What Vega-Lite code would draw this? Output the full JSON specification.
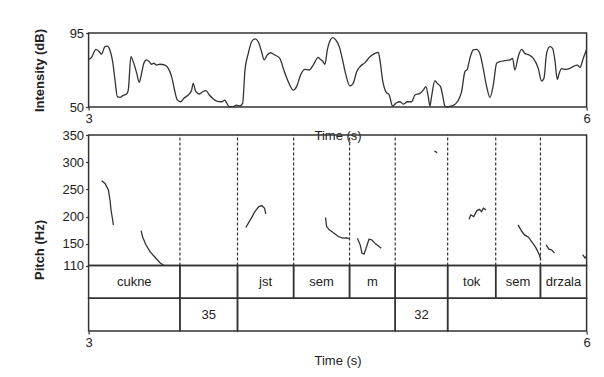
{
  "$schema": "https://vega.github.io/schema/vega-lite/v6.json",
  "width": 498,
  "height": 298,
  "autosize": {"type": "none"},
  "padding": {"left": 88.6, "top": 33, "right": 17.4, "bottom": 46},
  "background": "white",
  "config": {
    "view": {"stroke": null},
    "font": "Liberation Sans",
    "axis": {"grid": false, "domain": false, "tickColor": "#333", "tickWidth": 1.2, "labelColor": "#222", "titleColor": "#222", "labelFont": "Liberation Sans", "titleFont": "Liberation Sans", "labelFontSize": 13, "titleFontSize": 13}
  },
  "datasets": {
    "intensity": [
      {"t":3.000,"db":79},{"t":3.018,"db":80.2},{"t":3.044,"db":85},{"t":3.064,"db":83.6},{"t":3.078,"db":82.2},{"t":3.098,"db":86.7},{"t":3.112,"db":87},{"t":3.128,"db":84.7},{"t":3.145,"db":77.6},{"t":3.159,"db":66.4},{"t":3.173,"db":56.3},{"t":3.189,"db":55.9},{"t":3.209,"db":57.1},{"t":3.229,"db":57.9},{"t":3.239,"db":60.3},{"t":3.255,"db":80.6},{"t":3.269,"db":77.6},{"t":3.289,"db":70.9},{"t":3.305,"db":65},{"t":3.319,"db":70.5},{"t":3.333,"db":76.6},{"t":3.349,"db":78.6},{"t":3.365,"db":77.6},{"t":3.379,"db":76},{"t":3.393,"db":76.6},{"t":3.410,"db":75.5},{"t":3.430,"db":76},{"t":3.460,"db":75.5},{"t":3.480,"db":73.5},{"t":3.500,"db":68.5},{"t":3.520,"db":59.3},{"t":3.534,"db":54.3},{"t":3.554,"db":53.2},{"t":3.574,"db":55.3},{"t":3.600,"db":57.3},{"t":3.620,"db":60},{"t":3.630,"db":64.4},{"t":3.646,"db":59.3},{"t":3.667,"db":57.9},{"t":3.687,"db":59.3},{"t":3.707,"db":60},{"t":3.727,"db":57.3},{"t":3.747,"db":55.3},{"t":3.771,"db":53.6},{"t":3.801,"db":53.2},{"t":3.821,"db":54.2},{"t":3.831,"db":52.6},{"t":3.847,"db":50.2},{"t":3.871,"db":50.2},{"t":3.891,"db":51.2},{"t":3.911,"db":50.6},{"t":3.928,"db":52.2},{"t":3.942,"db":72.5},{"t":3.962,"db":82.6},{"t":3.982,"db":89.7},{"t":4.002,"db":91.4},{"t":4.022,"db":89.7},{"t":4.042,"db":83.6},{"t":4.058,"db":78.6},{"t":4.076,"db":81.6},{"t":4.096,"db":83},{"t":4.122,"db":81.6},{"t":4.152,"db":79.6},{"t":4.176,"db":72.5},{"t":4.203,"db":65.4},{"t":4.233,"db":60.3},{"t":4.253,"db":62.4},{"t":4.277,"db":69.5},{"t":4.303,"db":72.9},{"t":4.329,"db":72.5},{"t":4.353,"db":75.5},{"t":4.383,"db":80.2},
      {"t":4.394,"db":79.2},{"t":4.410,"db":77.8},{"t":4.424,"db":76},{"t":4.438,"db":84.7},{"t":4.454,"db":90.3},{"t":4.470,"db":92.2},{"t":4.490,"db":90.7},{"t":4.510,"db":86.7},{"t":4.530,"db":78.6},{"t":4.550,"db":69.5},{"t":4.574,"db":62.8},{"t":4.594,"db":64.4},{"t":4.615,"db":71.5},{"t":4.639,"db":74.9},{"t":4.665,"db":77},{"t":4.695,"db":80.6},{"t":4.725,"db":82.6},{"t":4.745,"db":83.2},{"t":4.755,"db":78.6},{"t":4.771,"db":66.4},{"t":4.791,"db":59.3},{"t":4.811,"db":57.3},{"t":4.831,"db":50.6},{"t":4.855,"db":52.6},{"t":4.875,"db":53.2},{"t":4.896,"db":51.8},{"t":4.920,"db":53.2},{"t":4.946,"db":53.2},{"t":4.966,"db":57.3},{"t":4.996,"db":58.3},{"t":5.016,"db":60.3},{"t":5.032,"db":62.4},{"t":5.046,"db":56.3},{"t":5.056,"db":50.6},{"t":5.066,"db":56.3},{"t":5.086,"db":66},{"t":5.100,"db":64.4},{"t":5.120,"db":62.4},{"t":5.136,"db":55.3},{"t":5.146,"db":50.6},{"t":5.160,"db":50},{"t":5.181,"db":50.6},{"t":5.201,"db":51.2},{"t":5.221,"db":53.2},{"t":5.247,"db":59.3},{"t":5.267,"db":71.5},{"t":5.281,"db":72.9},{"t":5.297,"db":79.6},{"t":5.317,"db":84.7},{"t":5.337,"db":85.1},{"t":5.357,"db":82.6},{"t":5.377,"db":73.5},{"t":5.398,"db":62.4},{"t":5.418,"db":55.9},{"t":5.438,"db":63.4},{"t":5.458,"db":76.6},{"t":5.478,"db":77.6},{"t":5.508,"db":78.2},{"t":5.538,"db":78.6},{"t":5.554,"db":79.6},{"t":5.568,"db":72.5},{"t":5.588,"db":80.6},{"t":5.608,"db":85.1},{"t":5.628,"db":82.6},{"t":5.654,"db":81.6},{"t":5.679,"db":79.6},{"t":5.709,"db":73.5},{"t":5.729,"db":65.8},{"t":5.743,"db":67.4},{"t":5.759,"db":82.6},{"t":5.779,"db":86.7},{"t":5.795,"db":85.7},{"t":5.809,"db":78.6},{"t":5.823,"db":66.8},{"t":5.835,"db":70.5},{"t":5.849,"db":73.3},{"t":5.875,"db":72.9},{"t":5.899,"db":73.5},{"t":5.923,"db":74.9},{"t":5.944,"db":75.5},{"t":5.960,"db":74.1},{"t":5.980,"db":79.6},{"t":6.000,"db":85.1}
    ],
    "pitch": [
      {"seg":1,"t":3.079,"hz":266},{"seg":1,"t":3.099,"hz":261},{"seg":1,"t":3.119,"hz":249},{"seg":1,"t":3.129,"hz":230.5},{"seg":1,"t":3.135,"hz":212},{"seg":1,"t":3.145,"hz":193.7},{"seg":1,"t":3.149,"hz":184.5},
      {"seg":2,"t":3.316,"hz":174},{"seg":2,"t":3.326,"hz":162},{"seg":2,"t":3.346,"hz":147.7},{"seg":2,"t":3.370,"hz":135.4},{"seg":2,"t":3.400,"hz":125.1},{"seg":2,"t":3.430,"hz":115.2},{"seg":2,"t":3.454,"hz":110},
      {"seg":3,"t":3.947,"hz":179.8},{"seg":3,"t":3.974,"hz":193.9},{"seg":3,"t":4.002,"hz":209.2},{"seg":3,"t":4.025,"hz":218.4},{"seg":3,"t":4.044,"hz":220.2},{"seg":3,"t":4.060,"hz":215.3},{"seg":3,"t":4.067,"hz":204.9},
      {"seg":4,"t":4.427,"hz":198.2},{"seg":4,"t":4.434,"hz":181.6},{"seg":4,"t":4.450,"hz":175.5},{"seg":4,"t":4.473,"hz":170.6},{"seg":4,"t":4.504,"hz":163.3},{"seg":4,"t":4.531,"hz":160.2},{"seg":4,"t":4.555,"hz":160.8},{"seg":4,"t":4.573,"hz":159.6},
      {"seg":5,"t":4.619,"hz":160.2},{"seg":5,"t":4.636,"hz":148},{"seg":5,"t":4.647,"hz":132.7},{"seg":5,"t":4.659,"hz":130.8},{"seg":5,"t":4.675,"hz":144.9},{"seg":5,"t":4.689,"hz":158.4},{"seg":5,"t":4.705,"hz":157.2},{"seg":5,"t":4.729,"hz":149.8},{"seg":5,"t":4.763,"hz":141.9},
      {"seg":6,"t":5.083,"hz":320.6},{"seg":6,"t":5.100,"hz":317.6},
      {"seg":7,"t":5.292,"hz":195.1},{"seg":7,"t":5.302,"hz":203.1},{"seg":7,"t":5.320,"hz":200},{"seg":7,"t":5.339,"hz":211},{"seg":7,"t":5.355,"hz":213.5},{"seg":7,"t":5.367,"hz":209.2},{"seg":7,"t":5.378,"hz":215.3},{"seg":7,"t":5.394,"hz":212.3},
      {"seg":8,"t":5.587,"hz":184.7},{"seg":8,"t":5.610,"hz":172.5},{"seg":8,"t":5.626,"hz":166.3},{"seg":8,"t":5.650,"hz":162.1},{"seg":8,"t":5.673,"hz":152.3},{"seg":8,"t":5.696,"hz":141.9},{"seg":8,"t":5.715,"hz":129.6},{"seg":8,"t":5.725,"hz":120.4},
      {"seg":9,"t":5.756,"hz":148},{"seg":9,"t":5.773,"hz":140},{"seg":9,"t":5.789,"hz":138.8},{"seg":9,"t":5.807,"hz":132.7},
      {"seg":10,"t":5.976,"hz":130},{"seg":10,"t":5.990,"hz":124},{"seg":10,"t":6.0,"hz":127}
    ],
    "bounds": [{"t":3.550},{"t":3.897},{"t":4.235},{"t":4.572},{"t":4.847},{"t":5.163},{"t":5.4525},{"t":5.722}],
    "tiers": [
      {"tier":"1","start":3.0,"end":3.550,"label":"cukne"},
      {"tier":"1","start":3.550,"end":3.897,"label":""},
      {"tier":"1","start":3.897,"end":4.235,"label":"jst"},
      {"tier":"1","start":4.235,"end":4.572,"label":"sem"},
      {"tier":"1","start":4.572,"end":4.847,"label":"m"},
      {"tier":"1","start":4.847,"end":5.163,"label":""},
      {"tier":"1","start":5.163,"end":5.4525,"label":"tok"},
      {"tier":"1","start":5.4525,"end":5.722,"label":"sem"},
      {"tier":"1","start":5.722,"end":6.0,"label":"drzala"},
      {"tier":"2","start":3.0,"end":3.550,"label":""},
      {"tier":"2","start":3.550,"end":3.897,"label":"35"},
      {"tier":"2","start":3.897,"end":4.847,"label":""},
      {"tier":"2","start":4.847,"end":5.163,"label":"32"},
      {"tier":"2","start":5.163,"end":6.0,"label":""}
    ]
  },
  "resolve": {"scale": {"y": "independent"}, "axis": {"x": "independent", "y": "independent"}},
  "layer": [
    {
      "data": {"name": "intensity"},
      "layer": [
        {
          "mark": {"type": "line", "color": "#333", "strokeWidth": 1.3, "clip": true, "interpolate": "monotone"},
          "encoding": {
            "x": {"field": "t", "type": "quantitative", "scale": {"domain": [3, 6], "nice": false, "zero": false},
              "axis": {"orient": "bottom", "offset": -224, "values": [3, 6], "format": "d", "labelFlush": false, "tickSize": 3, "labelPadding": 2, "title": "Time (s)", "titleY": 28.5, "titleBaseline": "middle", "titleFontWeight": "normal"}},
            "y": {"field": "db", "type": "quantitative", "scale": {"domain": [50, 95], "range": [74, 0], "nice": false, "zero": false},
              "axis": {"orient": "left", "values": [50, 95], "tickSize": 3, "labelPadding": 2, "title": "Intensity (dB)", "titleFontWeight": "bold", "titleAngle": 270, "titleAlign": "center", "titleBaseline": "middle", "titleX": -49.6, "titleY": 37}}
          }
        },
        {
          "data": {"values": [{}]},
          "mark": {"type": "rect", "fill": "white", "fillOpacity": 0, "stroke": "#333", "strokeWidth": 1.5},
          "encoding": {
            "x": {"datum": 3}, "x2": {"datum": 6},
            "y": {"datum": 50}, "y2": {"datum": 95}
          }
        }
      ]
    },
    {
      "layer": [
        {
          "data": {"name": "bounds"},
          "mark": {"type": "rule", "color": "#333", "strokeWidth": 1.2, "strokeDash": [3, 2]},
          "encoding": {
            "x": {"field": "t", "type": "quantitative", "scale": {"domain": [3, 6], "nice": false, "zero": false},
              "axis": {"orient": "bottom", "values": [3, 6], "format": "d", "labelFlush": false, "tickSize": 3, "labelPadding": 2, "title": "Time (s)", "titleY": 29, "titleBaseline": "middle", "titleFontWeight": "normal"}},
            "y": {"datum": 110, "type": "quantitative", "scale": {"domain": [110, 350], "range": [232.5, 102], "nice": false, "zero": false},
              "axis": {"orient": "left", "values": [110, 150, 200, 250, 300, 350], "tickSize": 3, "labelPadding": 2, "title": "Pitch (Hz)", "titleFontWeight": "bold", "titleAngle": 270, "titleAlign": "center", "titleBaseline": "middle", "titleX": -49.6, "titleY": 216.5}},
            "y2": {"datum": 350}
          }
        },
        {
          "data": {"name": "pitch"},
          "mark": {"type": "line", "color": "#333", "strokeWidth": 1.3},
          "encoding": {
            "x": {"field": "t", "type": "quantitative"},
            "y": {"field": "hz", "type": "quantitative"},
            "detail": {"field": "seg", "type": "nominal"}
          }
        },
        {
          "data": {"values": [{}]},
          "mark": {"type": "rect", "fill": "white", "fillOpacity": 0, "stroke": "#333", "strokeWidth": 1.5},
          "encoding": {
            "x": {"datum": 3}, "x2": {"datum": 6},
            "y": {"datum": 110}, "y2": {"datum": 350}
          }
        }
      ]
    },
    {
      "data": {"name": "tiers"},
      "transform": [{"calculate": "(datum.start + datum.end) / 2", "as": "mid"}],
      "layer": [
        {
          "mark": {"type": "rect", "fill": "white", "fillOpacity": 0, "stroke": "#333", "strokeWidth": 1.5},
          "encoding": {
            "x": {"field": "start", "type": "quantitative", "axis": null},
            "x2": {"field": "end"},
            "y": {"field": "tier", "type": "ordinal", "axis": null, "scale": {"domain": ["1", "2"], "range": [232.5, 298], "paddingInner": 0, "paddingOuter": 0}}
          }
        },
        {
          "mark": {"type": "text", "fontSize": 13, "color": "#222", "font": "Liberation Sans"},
          "encoding": {
            "x": {"field": "mid", "type": "quantitative", "axis": null},
            "y": {"field": "tier", "type": "ordinal", "axis": null},
            "text": {"field": "label"}
          }
        }
      ]
    }
  ]
}
